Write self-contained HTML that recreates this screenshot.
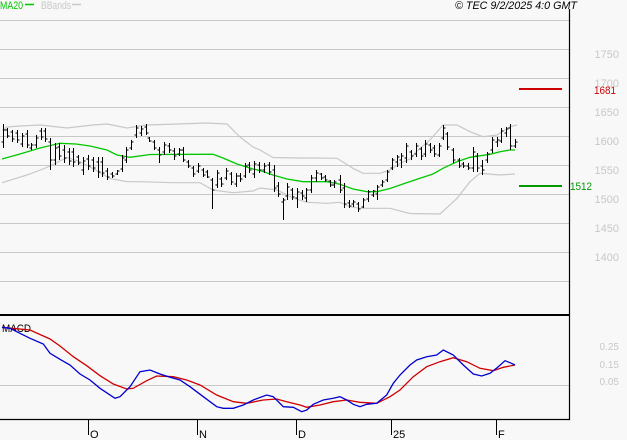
<!DOCTYPE html>
<html><head><meta charset="utf-8"><style>
html,body{margin:0;padding:0;background:#f8f8f8;}
svg{display:block;}
text{font-family:"Liberation Sans",sans-serif;}
</style></head><body>
<svg width="627" height="440" viewBox="0 0 627 440" xmlns="http://www.w3.org/2000/svg">
<rect x="0" y="0" width="627" height="440" fill="#f8f8f8"/>
<g stroke="#c8c8c8" stroke-width="1" fill="none">
<path d="M0 20.5H569M0 49.5H569M0 78.5H569M0 107.5H569M0 136.5H569M0 165.5H569M0 194.5H569M0 223.5H569M0 252.5H569M0 281.5H569M0 385.5H569"/>
</g>
<path d="M569.5 9V420" stroke="#000" stroke-width="1.2"/>
<path d="M0 315H570" stroke="#000" stroke-width="2"/>
<path d="M0 419.5H570" stroke="#000" stroke-width="1.3"/>
<path d="M88.5 419V435M197.5 419V435M296.5 419V435M391.5 419V435M496.5 419V435" stroke="#000" stroke-width="1"/>
<g font-size="11" fill="#000">
<text x="90" y="438">O</text>
<text x="199" y="438">N</text>
<text x="298" y="438">D</text>
<text x="393" y="438">25</text>
<text x="498" y="438">F</text>
</g>
<text x="0" y="9" font-size="11" fill="#00c800" textLength="23" lengthAdjust="spacingAndGlyphs">MA20</text>
<path d="M25 4.5H34" stroke="#00c800" stroke-width="1.5"/>
<text x="41" y="9" font-size="11" fill="#c8c8c8" textLength="30" lengthAdjust="spacingAndGlyphs">BBands</text>
<path d="M72 4.5H81" stroke="#c8c8c8" stroke-width="1.5"/>
<text x="455" y="9" font-size="11" font-style="italic" fill="#000" textLength="122" lengthAdjust="spacingAndGlyphs">© TEC 9/2/2025 4:0 GMT</text>
<g font-size="11" fill="#c8c8c8" text-anchor="end">
<text x="619" y="58">1750</text>
<text x="619" y="87">1700</text>
<text x="619" y="116">1650</text>
<text x="619" y="145">1600</text>
<text x="619" y="174">1550</text>
<text x="619" y="203">1500</text>
<text x="619" y="232">1450</text>
<text x="619" y="261">1400</text>
</g>
<g font-size="10" fill="#c8c8c8" text-anchor="end">
<text x="619" y="350">0.25</text>
<text x="619" y="368">0.15</text>
<text x="619" y="385">0.05</text>
</g>
<path d="M519 89H562" stroke="#cc0000" stroke-width="2"/>
<text x="594" y="94" font-size="11" fill="#cc0000" textLength="22" lengthAdjust="spacingAndGlyphs">1681</text>
<path d="M519 186H562" stroke="#009900" stroke-width="2"/>
<text x="570" y="190" font-size="11" fill="#009900" textLength="22" lengthAdjust="spacingAndGlyphs">1512</text>
<g fill="none" stroke="#c8c8c8" stroke-width="1.2">
<polyline points="2,130 7,127 20,126 40,125 67,128 93,125 107,124 127,128 140,126 147,125 207,123 227,124 240,137 253,147 260,150 273,157.5 300,158 313,158 337,158.3 353,168.3 363,173.3 380,173.3 390,170 400,163.3 410,159 417,151 430,140 443,125 457,125 470,131.7 483,136.7 497,135 510,126.7 517,125"/>
<polyline points="2,182.7 13,179.3 27,175 43,169 50,166 67,157.5 80,161.5 93,168.5 110,178.5 127,181.7 140,181.7 173,182.7 200,182.7 213,190 233,192.7 253,191 260,188 277,190 293,198 307,202.3 327,203.3 340,202.3 350,206.7 360,208.3 390,208.3 410,213.5 440,214 457,198.3 470,181.7 480,173.3 500,175 515,174"/>
</g>
<polyline fill="none" stroke="#00c800" stroke-width="1.3" points="2,159 20,154 40,148 60,143.3 76,144 90,146 107,150 117,155 130,157.3 150,154.5 200,154.3 213,154.3 223,158 237,164 253,169 260,170.5 273,175 287,179 303,181.7 327,181.7 340,184.3 353,189 367,191.7 377,191.7 390,188.5 400,185 417,179.3 433,174 443,168.3 457,161.7 470,157.3 490,154.3 500,151.7 510,150 515,150"/>
<path fill="none" stroke="#000" stroke-width="1" d="M3.5 124V148M1.5 142h2M3.5 130h2M7.5 128V138M5.5 130h2M7.5 136h2M12.5 130V142M10.5 132h2M12.5 139h2M17.5 130V143M15.5 133h2M17.5 140h2M22.5 133V147M20.5 144h2M22.5 136h2M27.5 130V148M25.5 134h2M27.5 145h2M31.5 143V150M29.5 148h2M31.5 145h2M36.5 135V148M34.5 145h2M36.5 138h2M41.5 128V140M39.5 131h2M41.5 137h2M45.5 128V142M43.5 131h2M45.5 139h2M50.5 138V170M48.5 142h2M50.5 160h2M55.5 143V165M53.5 160h2M55.5 148h2M59.5 143V160M57.5 147h2M59.5 156h2M64.5 145V163M62.5 150h2M64.5 158h2M69.5 148V165M67.5 152h2M69.5 161h2M73.5 148V167M71.5 152h2M73.5 162h2M78.5 155V165M76.5 157h2M78.5 163h2M83.5 157V175M81.5 170h2M83.5 161h2M88.5 155V170M86.5 159h2M88.5 166h2M93.5 157V172M91.5 160h2M93.5 168h2M98.5 157V178M96.5 162h2M98.5 172h2M102.5 157V177M100.5 162h2M102.5 173h2M107.5 168V180M105.5 171h2M107.5 177h2M112.5 172V178M110.5 174h2M112.5 176h2M117.5 170V175M115.5 174h2M117.5 171h2M122.5 155V172M120.5 169h2M122.5 158h2M126.5 147V163M124.5 160h2M126.5 150h2M131.5 140V150M129.5 148h2M131.5 142h2M136.5 125V138M134.5 135h2M136.5 128h2M141.5 126V136M139.5 133h2M141.5 129h2M146.5 124V135M144.5 127h2M146.5 133h2M149.5 137V142M147.5 138h2M149.5 141h2M154.5 140V150M152.5 142h2M154.5 148h2M159.5 147V163M157.5 150h2M159.5 155h2M164.5 142V155M162.5 152h2M164.5 145h2M169.5 143V153M167.5 146h2M169.5 150h2M174.5 148V160M172.5 151h2M174.5 156h2M179.5 148V156M177.5 154h2M179.5 150h2M183.5 147V162M181.5 150h2M183.5 160h2M188.5 160V168M186.5 162h2M188.5 166h2M193.5 166V177M191.5 168h2M193.5 174h2M198.5 163V173M196.5 171h2M198.5 166h2M203.5 168V177M201.5 170h2M203.5 175h2M207.5 170V178M205.5 172h2M207.5 177h2M212.5 178V209M210.5 180h2M212.5 190h2M217.5 170V188M215.5 185h2M217.5 173h2M221.5 177V187M219.5 179h2M221.5 184h2M226.5 168V180M224.5 178h2M226.5 171h2M231.5 172V185M229.5 174h2M231.5 182h2M236.5 173V187M234.5 184h2M236.5 176h2M240.5 173V182M238.5 176h2M240.5 179h2M245.5 163V178M243.5 176h2M245.5 166h2M249.5 162V173M247.5 165h2M249.5 170h2M254.5 161V178M252.5 174h2M254.5 164h2M259.5 162V173M257.5 165h2M259.5 170h2M264.5 163V173M262.5 170h2M264.5 166h2M269.5 162V175M267.5 165h2M269.5 172h2M274.5 165V192M272.5 170h2M274.5 188h2M278.5 182V197M276.5 186h2M278.5 194h2M283.5 198V220M281.5 202h2M283.5 200h2M287.5 183V200M285.5 196h2M287.5 187h2M292.5 188V200M290.5 190h2M292.5 197h2M297.5 188V208M295.5 198h2M297.5 192h2M302.5 190V200M300.5 193h2M302.5 196h2M306.5 188V202M304.5 198h2M306.5 190h2M311.5 175V193M309.5 190h2M311.5 178h2M316.5 170V182M314.5 178h2M316.5 173h2M321.5 173V180M319.5 174h2M321.5 178h2M325.5 175V182M323.5 177h2M325.5 180h2M330.5 180V187M328.5 181h2M330.5 185h2M334.5 180V188M332.5 185h2M334.5 182h2M340.5 175V193M338.5 180h2M340.5 190h2M344.5 183V208M342.5 188h2M344.5 204h2M349.5 200V208M347.5 203h2M349.5 206h2M353.5 200V207M351.5 204h2M353.5 202h2M358.5 202V212M356.5 204h2M358.5 209h2M363.5 198V208M361.5 207h2M363.5 200h2M368.5 190V202M366.5 199h2M368.5 192h2M373.5 190V197M371.5 195h2M373.5 191h2M377.5 185V200M375.5 194h2M377.5 187h2M382.5 180V187M380.5 185h2M382.5 182h2M387.5 170V182M385.5 180h2M387.5 172h2M392.5 158V170M390.5 168h2M392.5 160h2M397.5 155V167M395.5 162h2M397.5 157h2M401.5 153V168M399.5 160h2M401.5 156h2M406.5 143V163M404.5 158h2M406.5 146h2M411.5 150V160M409.5 152h2M411.5 156h2M416.5 143V157M414.5 154h2M416.5 146h2M421.5 147V160M419.5 149h2M421.5 156h2M425.5 140V157M423.5 154h2M425.5 144h2M430.5 143V153M428.5 145h2M430.5 150h2M434.5 145V157M432.5 148h2M434.5 154h2M439.5 143V157M437.5 155h2M439.5 146h2M443.5 125V140M441.5 138h2M443.5 128h2M447.5 132V150M445.5 134h2M447.5 147h2M453.5 148V163M451.5 150h2M453.5 160h2M459.5 158V168M457.5 160h2M459.5 166h2M463.5 162V168M461.5 164h2M463.5 166h2M468.5 163V170M466.5 166h2M468.5 168h2M473.5 147V172M471.5 168h2M473.5 152h2M477.5 153V172M475.5 156h2M477.5 168h2M482.5 160V175M480.5 166h2M482.5 170h2M487.5 152V163M485.5 160h2M487.5 154h2M492.5 137V153M490.5 150h2M492.5 140h2M497.5 137V147M495.5 142h2M497.5 140h2M501.5 128V143M499.5 141h2M501.5 131h2M506.5 127V137M504.5 133h2M506.5 129h2M510.5 124V150M508.5 128h2M510.5 146h2M515.5 139V148M513.5 146h2M515.5 142h2"/>
<text x="2" y="332" font-size="11" fill="#000" textLength="29" lengthAdjust="spacingAndGlyphs">MACD</text>
<polyline fill="none" stroke="#d00000" stroke-width="1.3" points="2,327.3 30,330 50,339 60,346 73.3,356.7 86.7,365.7 100,375.7 113.3,384 126.7,389 133.3,388.3 146.7,380.7 156.7,376 173.3,376.7 186.7,380 200,385 216.7,395 233.3,401.7 246.7,403.3 263.3,400 276.7,399 286.7,401.7 300,405 306.7,407.3 320,405 333.3,401.7 346.7,400 360,402.3 376.7,403.3 390,396.7 400,390 413.3,376.7 426.7,366.7 440,361.7 453.3,357.7 466.7,361.7 480,368.3 493.3,370.7 503.3,367.3 515,365"/>
<polyline fill="none" stroke="#0000d0" stroke-width="1.3" points="2,327.3 10,328.3 20,333.3 30,338.3 43.3,344 50,353.3 60,359.3 70,365 80,374 90,380 100,388.3 115,398.3 120,396.7 130,386.7 140,371.7 150,370 160,374 170,377.3 180,380 190,386.7 203.3,396.7 216.7,406.7 223.3,408.3 233.3,408.3 243.3,405 253.3,400 266.7,395 273.3,396.7 283.3,406.7 293.3,407.3 301.7,411.7 306.7,410 313.3,404.3 323.3,400 333.3,398.3 340,396.7 346.7,400 353.3,404.3 360,406.7 366.7,404.3 376.7,403.3 386.7,395 393.3,383.3 400,375 410,365 416.7,360 426.7,356.7 436.7,355 443.3,350 453.3,355 463.3,365 473.3,374 481.7,376 490,373.3 498.3,366.7 505,360.7 510,362.7 515,365"/>
</svg>
</body></html>
